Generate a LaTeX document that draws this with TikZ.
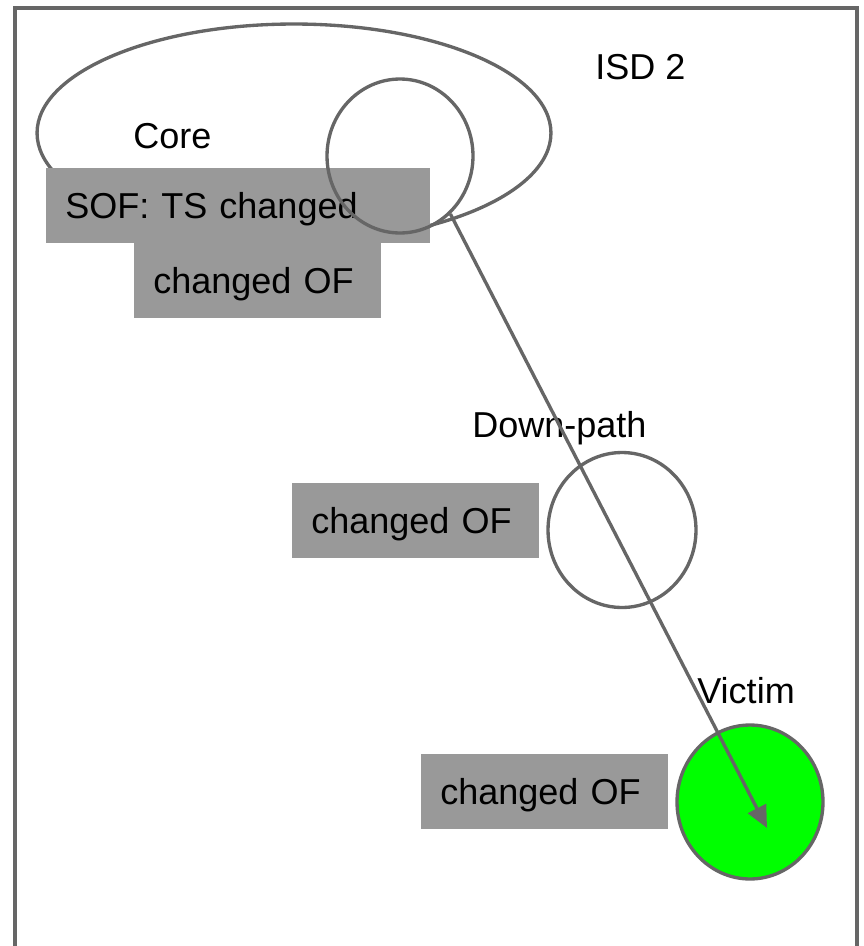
\documentclass[tikz,border=0pt]{standalone}
\usepackage{xcolor}
\usepackage{fontspec}
\setmainfont{Liberation Sans}
\usetikzlibrary{shapes.geometric,arrows.meta}

\definecolor{linegray}{HTML}{666666}
\definecolor{boxgray}{HTML}{999999}
\definecolor{victimgreen}{HTML}{00FF00}

\tikzset{
  nametext/.style={font=\fontsize{20.5}{24}\selectfont, inner sep=0pt},
  ofbox/.style={fill=boxgray, font=\fontsize{20.5}{24}\selectfont, anchor=north west,
    minimum height=1.5cm, inner xsep=0.38cm, inner ysep=0pt, align=left, text depth=0pt},
  ring/.style={ellipse, draw=linegray, line width=1.9pt, inner sep=0pt},
}

\begin{document}
\begin{tikzpicture}[x=0.02cm, y=-0.02cm]
    \useasboundingbox (0,0) rectangle (864,946);

    % Frame
    \draw[linegray, line width=1.9pt] (15,8) rectangle (857,990);
    \node[nametext, anchor=base west] (isd) at (595,80) {ISD 2};

    % Core region
    \node[ring, minimum width=10.28cm, minimum height=4.36cm] (coreregion) at (294,133) {};
    \node[nametext, anchor=base west] (coretext) at (133,148) {Core};

    % Boxes
    \node[ofbox, text width=6.92cm] (sof) at (46,168) {SOF: TS changed};
    \node[ofbox, text width=4.18cm] (coreof) at (134,243) {changed OF};
    \node[ofbox, text width=4.18cm] (downof) at (292,483) {changed OF};
    \node[ofbox, text width=4.18cm] (victimof) at (421,754) {changed OF};

    % Rings
    \node[ring, minimum width=2.92cm, minimum height=3.08cm] (corering) at (400,156) {};
    \node[ring, minimum width=2.96cm, minimum height=3.1cm] (downring) at (622,530) {};
    \node[ring, fill=victimgreen, minimum width=2.92cm, minimum height=3.08cm] (victimring) at (750,802) {};
    \node[nametext, anchor=base west] (downtext) at (472,437) {Down-path};
    \node[nametext, anchor=base west] (victimtext) at (697,703) {Victim};

    % Arrow
    \coordinate (tip) at (767,828);
    \draw[-{Triangle[length=0.44cm,width=0.4cm]}, linegray, line width=1.9pt] (corering.-49) -- (tip);
\end{tikzpicture}
\end{document}
